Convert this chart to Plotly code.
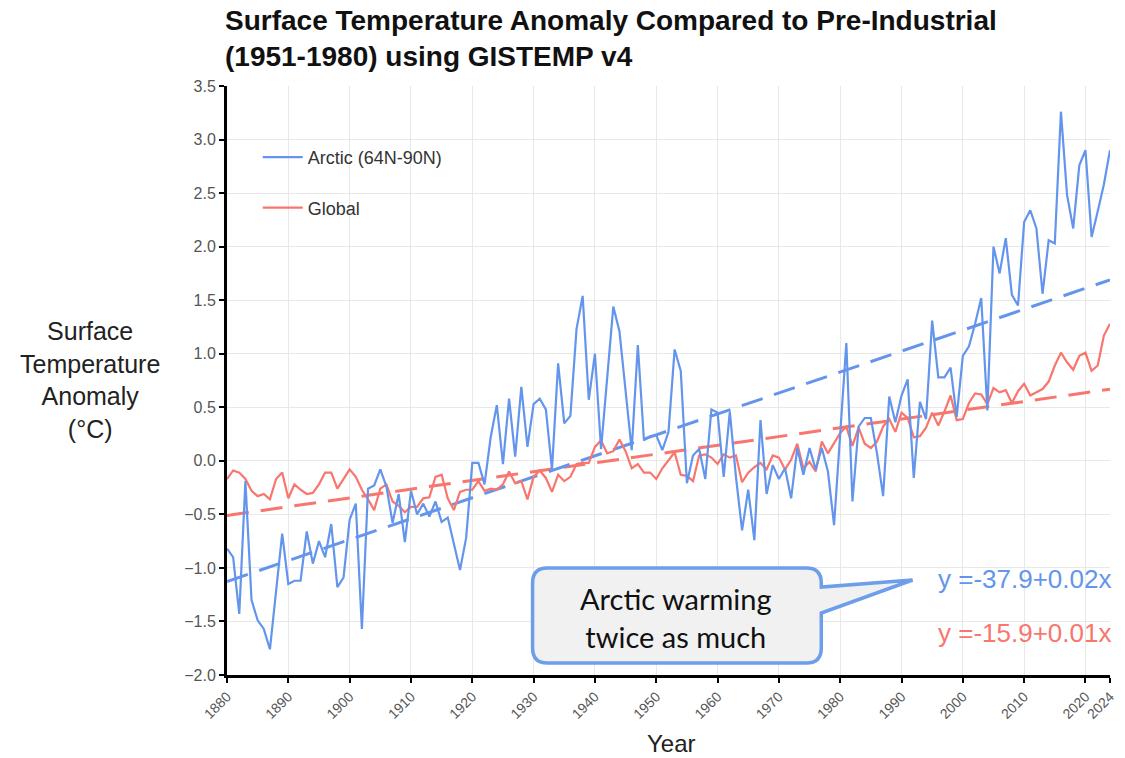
import numpy as np
import plotly.graph_objects as go

# ---- data -------------------------------------------------------------
years = list(range(1880, 2025))

arctic = [
    -0.82, -0.90, -1.43, -0.19, -1.30, -1.49, -1.57, -1.76, -1.22, -0.68,   # 1880s
    -1.15, -1.12, -1.12, -0.66, -0.96, -0.75, -0.90, -0.59, -1.18, -1.09,   # 1890s
    -0.55, -0.40, -1.57, -0.26, -0.23, -0.08, -0.24, -0.58, -0.31, -0.76,   # 1900s
    -0.28, -0.50, -0.40, -0.52, -0.38, -0.57, -0.53, -0.77, -1.02, -0.72,   # 1910s
    -0.02, -0.02, -0.22, 0.22, 0.52, -0.03, 0.58, 0.04, 0.69, 0.13,         # 1920s
    0.53, 0.58, 0.48, -0.08, 0.91, 0.35, 0.42, 1.23, 1.54, 0.57,            # 1930s
    1.00, 0.11, 0.75, 1.44, 1.21, 0.68, 0.10, 1.08, 0.19, 0.23,             # 1940s
    0.24, 0.10, 0.27, 1.04, 0.84, -0.21, 0.05, 0.11, -0.17, 0.48,           # 1950s
    0.45, -0.15, 0.46, -0.15, -0.65, -0.27, -0.74, 0.38, -0.31, -0.04,      # 1960s
    -0.17, -0.07, -0.35, 0.12, -0.13, 0.12, -0.08, 0.12, -0.10, -0.60,      # 1970s
    0.28, 1.10, -0.38, 0.32, 0.40, 0.40, 0.07, -0.33, 0.60, 0.36,           # 1980s
    0.61, 0.76, -0.16, 0.55, 0.39, 1.31, 0.78, 0.78, 0.87, 0.41,            # 1990s
    0.98, 1.07, 1.28, 1.52, 0.47, 2.00, 1.75, 2.08, 1.55, 1.45,             # 2000s
    2.23, 2.34, 2.17, 1.56, 2.06, 2.03, 3.26, 2.48, 2.17, 2.76,             # 2010s
    2.90, 2.09, 2.33, 2.58, 2.90,                                           # 2020s
]

global_temp = [
    -0.17, -0.09, -0.11, -0.17, -0.28, -0.33, -0.31, -0.36, -0.17, -0.11,
    -0.35, -0.22, -0.27, -0.31, -0.30, -0.22, -0.11, -0.11, -0.26, -0.17,
    -0.08, -0.15, -0.27, -0.36, -0.46, -0.26, -0.22, -0.38, -0.42, -0.48,
    -0.43, -0.43, -0.35, -0.34, -0.15, -0.13, -0.35, -0.46, -0.29, -0.27,
    -0.27, -0.19, -0.28, -0.26, -0.27, -0.22, -0.10, -0.21, -0.19, -0.36,
    -0.15, -0.09, -0.16, -0.29, -0.13, -0.19, -0.15, -0.03, -0.02, -0.02,
    0.13, 0.19, 0.07, 0.09, 0.20, 0.09, -0.07, -0.03, -0.11, -0.11,
    -0.17, -0.07, 0.01, 0.08, -0.13, -0.14, -0.19, 0.05, 0.06, 0.03,
    -0.03, 0.06, 0.03, 0.05, -0.20, -0.11, -0.06, -0.02, -0.08, 0.05,
    0.03, -0.08, 0.01, 0.16, -0.07, -0.01, -0.10, 0.18, 0.07, 0.16,
    0.26, 0.32, 0.14, 0.31, 0.16, 0.12, 0.18, 0.32, 0.39, 0.27,
    0.45, 0.40, 0.22, 0.23, 0.31, 0.45, 0.33, 0.46, 0.61, 0.38,
    0.39, 0.54, 0.63, 0.62, 0.53, 0.68, 0.64, 0.66, 0.54, 0.65,
    0.72, 0.61, 0.64, 0.67, 0.74, 0.89, 1.01, 0.92, 0.85, 0.98,
    1.01, 0.84, 0.89, 1.17, 1.28,
]

# linear trends: intercept, slope (per year)
arctic_trend = (-37.9, 0.01956)
global_trend = (-15.9, 0.008186)

series_names = ["Arctic (64N-90N)", "Global"]
x_ticks = [1880, 1890, 1900, 1910, 1920, 1930, 1940, 1950, 1960, 1970,
           1980, 1990, 2000, 2010, 2020, 2024]
y_ticks = [-2.0, -1.5, -1.0, -0.5, 0.0, 0.5, 1.0, 1.5, 2.0, 2.5, 3.0, 3.5]

assert len(arctic) == len(years) == len(global_temp)

# ---- styling ----------------------------------------------------------
BLUE = "#6495ED"
RED = "#F8766D"
FONT = "Liberation Sans, Arial, sans-serif"
W, H = 1125, 758
ML, MR, MT, MB = 227, 8, 86, 83
PW, PH = W - ML - MR, H - MT - MB


def px(xpix):
    """horizontal pixel -> paper coordinate"""
    return (xpix - ML) / PW


def py(ypix):
    """vertical pixel -> paper coordinate"""
    return (H - MB - ypix) / PH


yrs = np.array(years, dtype=float)
trend_x = np.array([years[0], years[-1]], dtype=float)

fig = go.Figure()

fig.add_trace(go.Scatter(
    x=trend_x, y=global_trend[0] + global_trend[1] * trend_x,
    mode="lines", line=dict(color=RED, width=3, dash="22px,12px"),
    showlegend=False, hoverinfo="skip"))
fig.add_trace(go.Scatter(
    x=trend_x, y=arctic_trend[0] + arctic_trend[1] * trend_x,
    mode="lines", line=dict(color=BLUE, width=3, dash="22px,12px"),
    showlegend=False, hoverinfo="skip"))
fig.add_trace(go.Scatter(
    x=yrs, y=global_temp, mode="lines", name=series_names[1],
    line=dict(color=RED, width=2.2), legendgroup="g", legendrank=2))
fig.add_trace(go.Scatter(
    x=yrs, y=arctic, mode="lines", name=series_names[0],
    line=dict(color=BLUE, width=2.2), legendgroup="a", legendrank=1))

axis_common = dict(
    showline=True, linecolor="black", linewidth=3,
    ticks="outside", ticklen=5, tickcolor="black", tickwidth=1.5,
    showgrid=True, gridcolor="#e8e8e8", gridwidth=1,
    zeroline=False,
)

fig.update_xaxes(range=[1880, 2024], tickvals=x_ticks,
                 ticktext=[str(v) for v in x_ticks], tickangle=-45,
                 tickfont=dict(family=FONT, size=14, color="#555555"),
                 **axis_common)
fig.update_yaxes(range=[-2.0, 3.5], tickvals=y_ticks, tickformat=".1f",
                 tickfont=dict(family=FONT, size=16, color="#555555"),
                 **axis_common)

# callout bubble (rounded box with a pointer)
L, R, T, B, r = 535, 826, 568, 663, 15
tip = (918, 580)
pts = [
    ("M", (L + r, T)), ("L", (R - r, T)), ("Q", (R, T), (R, T + r)),
    ("L", (R, 587)), ("L", tip), ("L", (R, 613)),
    ("L", (R, B - r)), ("Q", (R, B), (R - r, B)),
    ("L", (L + r, B)), ("Q", (L, B), (L, B - r)),
    ("L", (L, T + r)), ("Q", (L, T), (L + r, T)),
]
path = ""
for cmd, *coords in pts:
    path += cmd + " " + " ".join(f"{px(a):.5f},{py(b):.5f}" for a, b in coords) + " "
path += "Z"
fig.add_shape(type="path", path=path, xref="paper", yref="paper",
              line=dict(color="#6D9EEB", width=3.5), fillcolor="#F1F1F1",
              layer="above")

annotations = [
    dict(text="<b>Surface Temperature Anomaly Compared to Pre-Industrial<br>"
              "(1951-1980) using GISTEMP v4</b>",
         x=px(223), y=py(3), xanchor="left", yanchor="top", align="left",
         font=dict(family=FONT, size=28, color="#111111")),
    dict(text="Surface<br>Temperature<br>Anomaly<br>(°C)",
         x=px(89), y=py(380), xanchor="center", yanchor="middle",
         align="center",
         font=dict(family=FONT, size=25, color="#222222")),
    dict(text="Year", x=px(675), y=py(743), xanchor="center",
         yanchor="middle",
         font=dict(family=FONT, size=24, color="#222222")),
    dict(text=f"y ={arctic_trend[0]:.1f}+{arctic_trend[1]:.2f}x",
         x=px(1120), y=py(579), xanchor="right", yanchor="middle",
         font=dict(family=FONT, size=26, color=BLUE)),
    dict(text=f"y ={global_trend[0]:.1f}+{global_trend[1]:.2f}x",
         x=px(1120), y=py(633), xanchor="right", yanchor="middle",
         font=dict(family=FONT, size=26, color=RED)),
    dict(text="Arctic warming<br>twice as much",
         x=px(680), y=py(617), xanchor="center", yanchor="middle",
         align="center",
         font=dict(family="Lato, Open Sans, sans-serif", size=29,
                   color="#111111")),
]
for a in annotations:
    a.update(xref="paper", yref="paper", showarrow=False)

fig.update_layout(
    width=W, height=H,
    margin=dict(l=ML, r=MR, t=MT, b=MB, pad=0),
    paper_bgcolor="white", plot_bgcolor="white",
    annotations=annotations,
    showlegend=True,
    legend=dict(x=px(258), y=py(139), xanchor="left", yanchor="top",
                bgcolor="rgba(0,0,0,0)", tracegroupgap=24, itemwidth=40,
                font=dict(family=FONT, size=18, color="#333333")),
)

fig.write_html("out.html")
